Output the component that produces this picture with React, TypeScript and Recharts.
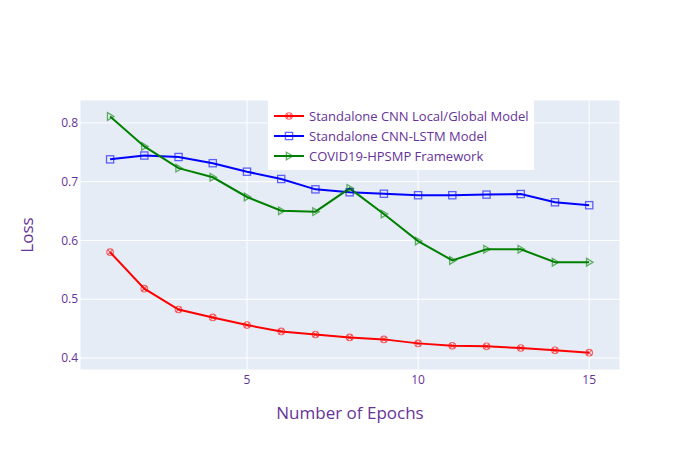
import React from "react";
import { LineChart, Line, XAxis, YAxis, CartesianGrid } from "recharts";

const epochs = [1, 2, 3, 4, 5, 6, 7, 8, 9, 10, 11, 12, 13, 14, 15];
const cnnLocalGlobal = [0.58, 0.518, 0.4825, 0.469, 0.456, 0.4452, 0.44, 0.435, 0.4317, 0.4249, 0.4208, 0.4198, 0.417, 0.413, 0.409];
const cnnLstm = [0.738, 0.7445, 0.742, 0.7315, 0.717, 0.7046, 0.687, 0.682, 0.6795, 0.677, 0.677, 0.678, 0.679, 0.665, 0.66];
const hpsmp = [0.811, 0.76, 0.723, 0.7075, 0.674, 0.6505, 0.649, 0.6887, 0.645, 0.599, 0.566, 0.585, 0.585, 0.563, 0.563];
const xTicks = [5, 10, 15];
const yTicks = [0.4, 0.5, 0.6, 0.7, 0.8];

const seriesNames = [
  "Standalone CNN Local/Global Model",
  "Standalone CNN-LSTM Model",
  "COVID19-HPSMP Framework",
];
const seriesColors = ["#ff0000", "#0000ff", "#008000"];

const data = epochs.map((e, i) => ({
  epoch: e,
  a: cnnLocalGlobal[i],
  b: cnnLstm[i],
  c: hpsmp[i],
}));

const FONT = "'Open Sans', 'Noto Sans', sans-serif";
const TEXT = "#663399";

function Marker({ kind, cx, cy, color }: { kind: number; cx: number; cy: number; color: string }) {
  if (cx == null || cy == null) return null;
  if (kind === 0) {
    const r = 3.3;
    const d = r * 0.7071;
    return (
      <g stroke={color} strokeOpacity={0.6} fill="none" strokeWidth={1.1}>
        <circle cx={cx} cy={cy} r={r} />
        <line x1={cx - d} y1={cy - d} x2={cx + d} y2={cy + d} />
        <line x1={cx - d} y1={cy + d} x2={cx + d} y2={cy - d} />
      </g>
    );
  }
  if (kind === 1) {
    const s = 3.6;
    return (
      <rect x={cx - s} y={cy - s} width={2 * s} height={2 * s} fill="none" stroke={color} strokeOpacity={0.6} strokeWidth={1.3} />
    );
  }
  const h = 3.8;
  return (
    <path
      d={`M${cx - h * 0.7},${cy - h} L${cx + h * 1.0},${cy} L${cx - h * 0.7},${cy + h} Z`}
      fill="none"
      stroke={color}
      strokeOpacity={0.6}
      strokeWidth={1.3}
    />
  );
}

const makeDot = (kind: number, color: string) => (props: any) => (
  <Marker key={`d-${kind}-${props.index}`} kind={kind} cx={props.cx} cy={props.cy} color={color} />
);

function LegendBox() {
  return (
    <div
      style={{
        position: "absolute",
        left: 268,
        top: 100,
        width: 266,
        height: 70,
        background: "#ffffff",
        fontFamily: FONT,
        fontSize: 13,
        color: TEXT,
      }}
    >
      {seriesNames.map((name, i) => (
        <div
          key={name}
          style={{ position: "absolute", left: 0, top: 15.7 + i * 20.2 - 10, height: 20, display: "flex", alignItems: "center" }}
        >
          <svg width={40} height={20} style={{ display: "block" }}>
            <line x1={6} y1={10} x2={36} y2={10} stroke={seriesColors[i]} strokeWidth={2} />
            <Marker kind={i} cx={21} cy={10} color={seriesColors[i]} />
          </svg>
          <span style={{ marginLeft: 1, whiteSpace: "nowrap" }}>{name}</span>
        </div>
      ))}
    </div>
  );
}

export default function App() {
  return (
    <div style={{ position: "absolute", left: 0, top: 0, width: 700, height: 450, background: "#fff" }}>
      <LineChart width={700} height={450} data={data} margin={{ top: 100, right: 80, bottom: 0, left: 0 }}>
        <CartesianGrid fill="#E5ECF6" stroke="#ffffff" strokeWidth={1} />
        <XAxis
          dataKey="epoch"
          type="number"
          domain={[0.12, 15.9]}
          ticks={xTicks}
          allowDataOverflow
          axisLine={false}
          tickLine={false}
          tickSize={0}
          tickMargin={5}
          height={80}
          tick={{ fill: TEXT, fontSize: 12, fontFamily: FONT }}
          label={{ value: "Number of Epochs", position: "insideBottom", offset: 31, fill: TEXT, fontSize: 17, fontFamily: FONT }}
        />
        <YAxis
          type="number"
          domain={[0.3796, 0.839]}
          ticks={yTicks}
          allowDataOverflow
          axisLine={false}
          tickLine={false}
          tickSize={0}
          tickMargin={2}
          width={80}
          tick={{ fill: TEXT, fontSize: 12, fontFamily: FONT }}
          label={{ value: "Loss", angle: -90, position: "center", dx: -13, fill: TEXT, fontSize: 17, fontFamily: FONT }}
        />
        <Line dataKey="a" name={seriesNames[0]} stroke={seriesColors[0]} strokeWidth={2} dot={makeDot(0, seriesColors[0])} activeDot={false} isAnimationActive={false} />
        <Line dataKey="b" name={seriesNames[1]} stroke={seriesColors[1]} strokeWidth={2} dot={makeDot(1, seriesColors[1])} activeDot={false} isAnimationActive={false} />
        <Line dataKey="c" name={seriesNames[2]} stroke={seriesColors[2]} strokeWidth={2} dot={makeDot(2, seriesColors[2])} activeDot={false} isAnimationActive={false} />
      </LineChart>
      <LegendBox />
    </div>
  );
}
